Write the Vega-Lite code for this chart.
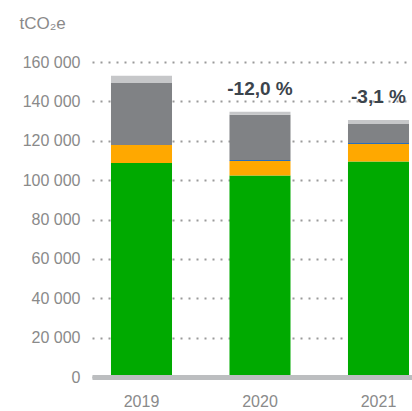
{
  "$schema": "https://vega.github.io/schema/vega-lite/v6.json",
  "width": 320,
  "height": 315,
  "autosize": {"type": "none"},
  "padding": {"left": 92, "top": 62, "right": 0, "bottom": 34},
  "background": "white",
  "config": {
    "view": {"stroke": null},
    "font": "Liberation Sans",
    "locale": {"number": {"decimal": ",", "thousands": " ", "grouping": [3], "currency": ["", " €"]}}
  },
  "datasets": {
    "bars": [
      {"year": "2019", "series": "Direct", "order": 1, "value": 108700},
      {"year": "2019", "series": "Energy", "order": 2, "value": 9150},
      {"year": "2019", "series": "Other", "order": 3, "value": 0},
      {"year": "2019", "series": "Travel", "order": 4, "value": 31500},
      {"year": "2019", "series": "Waste", "order": 5, "value": 3700},
      {"year": "2020", "series": "Direct", "order": 1, "value": 102300},
      {"year": "2020", "series": "Energy", "order": 2, "value": 7450},
      {"year": "2020", "series": "Other", "order": 3, "value": 500},
      {"year": "2020", "series": "Travel", "order": 4, "value": 23000},
      {"year": "2020", "series": "Waste", "order": 5, "value": 1500},
      {"year": "2021", "series": "Direct", "order": 1, "value": 109400},
      {"year": "2021", "series": "Energy", "order": 2, "value": 9000},
      {"year": "2021", "series": "Other", "order": 3, "value": 500},
      {"year": "2021", "series": "Travel", "order": 4, "value": 9650},
      {"year": "2021", "series": "Waste", "order": 5, "value": 2000}
    ],
    "labels": [
      {"year": "2020", "total": 134750, "label": "-12,0 %"},
      {"year": "2021", "total": 130550, "label": "-3,1 %"}
    ]
  },
  "encoding": {
    "x": {
      "field": "year", "type": "nominal",
      "scale": {"domain": ["2019", "2020", "2021"], "paddingInner": 0.485, "paddingOuter": 0.0927, "align": 0.864},
      "axis": {
        "title": null, "labelAngle": 0, "ticks": false, "grid": false,
        "domain": true, "domainColor": "#BCBEC0", "domainWidth": 5,
        "labelFontSize": 16, "labelColor": "#8A8A8A", "labelPadding": 16,
        "zindex": 1
      }
    }
  },
  "layer": [
    {
      "data": {"name": "bars"},
      "mark": {"type": "bar"},
      "encoding": {
        "y": {
          "field": "value", "type": "quantitative", "aggregate": "sum", "stack": "zero",
          "scale": {"domain": [0, 160000], "nice": false},
          "axis": {
            "title": "tCO₂e", "titleAngle": 0, "titleAlign": "left", "titleBaseline": "alphabetic",
            "titleX": -73, "titleY": -34, "titleFontSize": 17, "titleFontWeight": "normal", "titleColor": "#8A8A8A",
            "values": [0, 20000, 40000, 60000, 80000, 100000, 120000, 140000, 160000],
            "labelOverlap": false,
            "format": ",d", "labelFontSize": 16, "labelColor": "#8A8A8A", "labelPadding": 12,
            "ticks": false, "domain": false,
            "grid": true, "gridColor": "#9A9A9A", "gridDash": [2, 6], "gridWidth": 2
          }
        },
        "color": {
          "field": "series", "type": "nominal", "legend": null,
          "scale": {"domain": ["Direct", "Energy", "Other", "Travel", "Waste"], "range": ["#00AA00", "#FFA800", "#2A6EBB", "#808285", "#C6C7C9"]}
        },
        "order": {"field": "order", "type": "quantitative"}
      }
    },
    {
      "data": {"name": "labels"},
      "mark": {"type": "text", "baseline": "middle", "align": "center", "dy": -23, "fontSize": 19, "fontWeight": "bold", "color": "#3B444C"},
      "encoding": {
        "y": {
          "field": "total", "type": "quantitative",
          "scale": {"domain": [0, 160000], "nice": false},
          "axis": {
            "title": "tCO₂e", "titleAngle": 0, "titleAlign": "left", "titleBaseline": "alphabetic",
            "titleX": -73, "titleY": -34, "titleFontSize": 17, "titleFontWeight": "normal", "titleColor": "#8A8A8A",
            "values": [0, 20000, 40000, 60000, 80000, 100000, 120000, 140000, 160000],
            "labelOverlap": false,
            "format": ",d", "labelFontSize": 16, "labelColor": "#8A8A8A", "labelPadding": 12,
            "ticks": false, "domain": false,
            "grid": true, "gridColor": "#9A9A9A", "gridDash": [2, 6], "gridWidth": 2
          }
        },
        "text": {"field": "label", "type": "nominal"}
      }
    }
  ]
}
